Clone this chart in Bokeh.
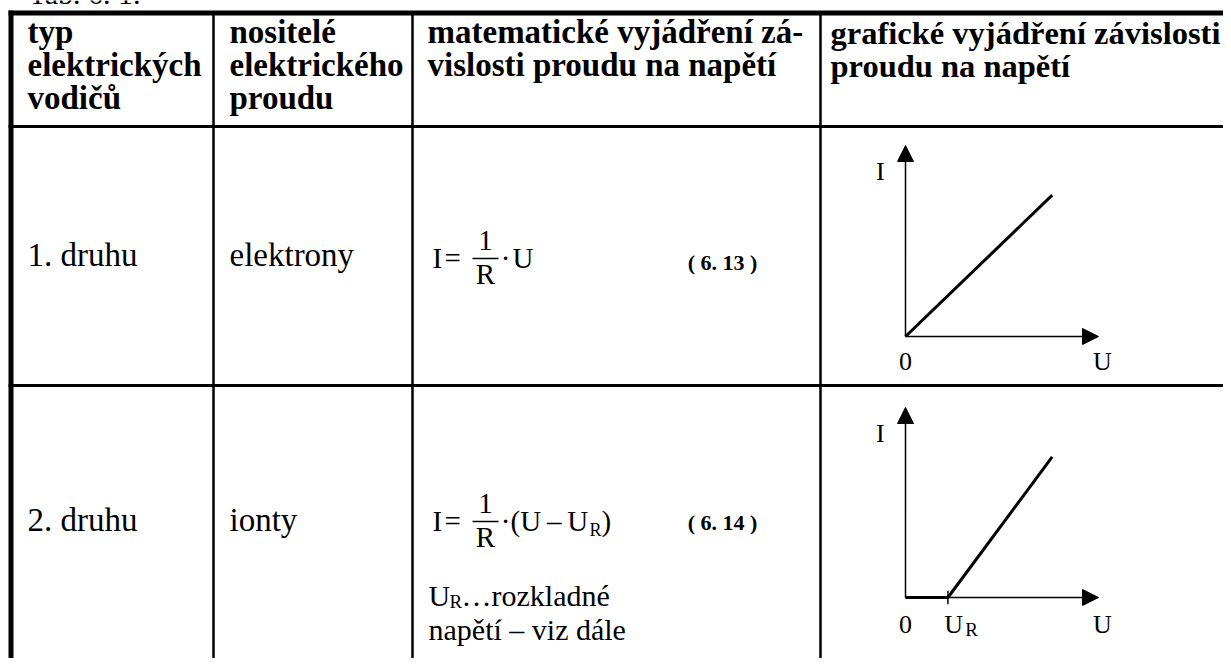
from bokeh.plotting import figure
from bokeh.models import Range1d, Arrow, NormalHead
from bokeh.core.properties import value
from bokeh.embed import file_html
from bokeh.resources import INLINE

# ---------------- data ----------------
caption = "Tab. 6. 1."
header_col1 = ["typ", "elektrických", "vodičů"]
header_col2 = ["nositelé", "elektrického", "proudu"]
header_col3 = ["matematické vyjádření zá-", "vislosti proudu na napětí"]
header_col4 = ["grafické vyjádření závislosti", "proudu na napětí"]
conductor_types = ["1. druhu", "2. druhu"]
carriers = ["elektrony", "ionty"]
equation_numbers = ["( 6. 13 )", "( 6. 14 )"]
note_lines = ["…rozkladné", "napětí – viz dále"]

axis_max = 1.0                 # length of the U and I axes (graph units)
g1_u = [0.0, 0.76]             # graph 1: I proportional to U
g1_i = [0.0, 0.74]
g2_u = [0.0, 0.22, 0.76]       # graph 2: zero until U_R, then linear
g2_i = [0.0, 0.0, 0.74]
u_r = 0.22

# ---------------- figure (1 data unit = 1 pixel, y negated) ----------------
FW, FH = 1223, 658
p = figure(width=FW, height=FH, output_backend="svg", toolbar_location=None,
           x_range=Range1d(0, FW), y_range=Range1d(-FH, 0), min_border=0)
p.axis.visible = False
p.grid.visible = False
p.outline_line_color = None
p.background_fill_color = "white"
p.border_fill_color = "white"

SERIF = value("Liberation Serif")

def put(x, y, txt, size, bold=False, align="left"):
    p.text(x=[x], y=[-y], text=[txt], text_font=SERIF, text_font_size=f"{size}px",
           text_font_style="bold" if bold else "normal", text_align=align,
           text_baseline="alphabetic", text_color="black", y_offset=-0.4 * size)

# ---------------- table grid ----------------
col_x = [213, 412, 820]
p.line(x=[10.5, 10.5], y=[-10, -FH], line_width=5, color="black")
p.line(x=[8, FW], y=[-12.5, -12.5], line_width=5, color="black")
p.line(x=[8, FW], y=[-126, -126], line_width=3, color="black")
p.line(x=[8, FW], y=[-385, -385], line_width=3, color="black")
for cx in col_x:
    p.line(x=[cx, cx], y=[-12, -FH], line_width=2.5, color="black")

# caption (cut off at the top edge, as in the source)
put(28, 5, caption, 30)

# ---------------- header ----------------
hb = [45, 78, 111]
HS = 33
for k, t in enumerate(header_col1):
    put(27, hb[k], t, HS, True)
for k, t in enumerate(header_col2):
    put(229, hb[k], t, HS, True)
for k, t in enumerate(header_col3):
    put(427, hb[k], t, HS, True)
for k, t in enumerate(header_col4):
    put(830, hb[k], t, 32.5, True)

# ---------------- body rows ----------------
BS = 33
row_base = [268, 533]
for k in range(2):
    put(27, row_base[k], conductor_types[k], BS)
    put(229, row_base[k], carriers[k], BS)

FS = 29
def fraction(bar_y):
    put(432, bar_y + 11, "I", FS)
    put(444, bar_y + 11, "=", FS)
    put(485, bar_y - 6, "1", FS, align="center")
    p.line(x=[472, 498], y=[-bar_y, -bar_y], line_width=1.5, color="black")
    put(485, bar_y + 27, "R", FS, align="center")
    put(505, bar_y + 11, "·", FS, align="center")

# row 1: I = 1/R · U
fraction(258)
put(512, 269, "U", FS)
put(722, 271, equation_numbers[0], 22, True, align="center")

# row 2: I = 1/R · (U − U_R)
fraction(521)
put(510, 532, "(U\u2009–\u2009U", FS)
put(589, 537, "R", 18)
put(601, 532, ")", FS)
put(722, 531, equation_numbers[1], 22, True, align="center")

# note under formula 2
put(428, 607, "U", 30)
put(449, 609, "R", 19)
put(461, 607, note_lines[0], 30)
put(428, 641, note_lines[1], 30)

# ---------------- graphs (own linear scales via extra ranges) ----------------
def add_graph(name, ox, oy, tx, ty):
    sx = tx - ox
    sy = oy - ty
    p.extra_x_ranges[name + "x"] = Range1d((0 - ox) / sx, (FW - ox) / sx)
    p.extra_y_ranges[name + "y"] = Range1d((-FH + oy) / sy, (0 + oy) / sy)
    return dict(x_range_name=name + "x", y_range_name=name + "y")

def axes(r):
    for xe, ye in [(axis_max, 0.0), (0.0, axis_max)]:
        p.add_layout(Arrow(x_start=0, y_start=0, x_end=xe, y_end=ye, line_width=1.5,
                           line_color="black",
                           end=NormalHead(size=16, fill_color="black", line_color="black"),
                           **r))

def label(r, xx, yy, tt, size=26, align="center"):
    p.text(x=[xx], y=[yy], text=[tt], text_font=SERIF, text_font_size=f"{size}px",
           text_align=align, text_baseline="alphabetic", y_offset=-0.4 * size, **r)

g1 = add_graph("g1", 905, 336, 1098, 145)
axes(g1)
p.line(x=g1_u, y=g1_i, line_width=3, color="black", **g1)
label(g1, -0.13, 0.81, "I")
label(g1, 0.0, -0.185, "0")
label(g1, 1.02, -0.185, "U")

g2 = add_graph("g2", 905, 597, 1098, 407)
axes(g2)
p.line(x=g2_u, y=g2_i, line_width=3, color="black", **g2)
p.segment(x0=[u_r], y0=[-0.035], x1=[u_r], y1=[0.035], line_width=1.5, color="black", **g2)
label(g2, -0.13, 0.81, "I")
label(g2, 0.0, -0.195, "0")
label(g2, 1.02, -0.195, "U")
label(g2, 0.25, -0.195, "U")
label(g2, 0.31, -0.21, "R", size=19, align="left")

open("out.html", "w").write(file_html(p, INLINE))
